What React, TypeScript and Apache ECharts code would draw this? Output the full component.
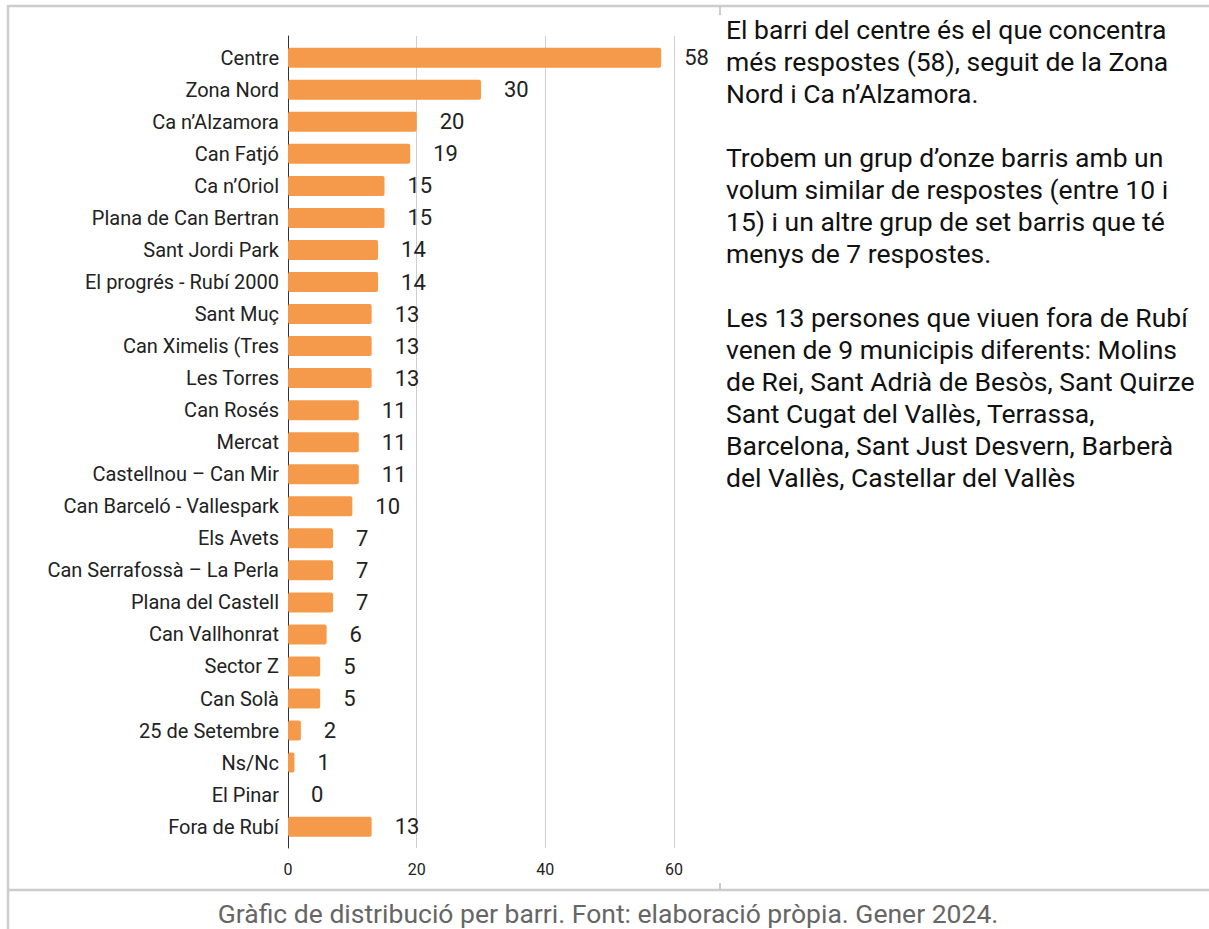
import React, { useEffect, useRef } from "react";
import * as echarts from "echarts";

const categories = [
  "Centre",
  "Zona Nord",
  "Ca n’Alzamora",
  "Can Fatjó",
  "Ca n’Oriol",
  "Plana de Can Bertran",
  "Sant Jordi Park",
  "El progrés - Rubí 2000",
  "Sant Muç",
  "Can Ximelis (Tres",
  "Les Torres",
  "Can Rosés",
  "Mercat",
  "Castellnou – Can Mir",
  "Can Barceló - Vallespark",
  "Els Avets",
  "Can Serrafossà – La Perla",
  "Plana del Castell",
  "Can Vallhonrat",
  "Sector Z",
  "Can Solà",
  "25 de Setembre",
  "Ns/Nc",
  "El Pinar",
  "Fora de Rubí",
];

const responses = [58, 30, 20, 19, 15, 15, 14, 14, 13, 13, 13, 11, 11, 11, 10, 7, 7, 7, 6, 5, 5, 2, 1, 0, 13];

const xTicks = [0, 20, 40, 60];

const sideText = [
  "El barri del centre és el que concentra",
  "més respostes (58), seguit de la Zona",
  "Nord i Ca n’Alzamora.",
  "",
  "Trobem un grup d’onze barris amb un",
  "volum similar de respostes (entre 10 i",
  "15) i un altre grup de set barris que té",
  "menys de 7 respostes.",
  "",
  "Les 13 persones que viuen fora de Rubí",
  "venen de 9 municipis diferents: Molins",
  "de Rei, Sant Adrià de Besòs, Sant Quirze",
  "Sant Cugat del Vallès, Terrassa,",
  "Barcelona, Sant Just Desvern, Barberà",
  "del Vallès, Castellar del Vallès",
];

const caption = "Gràfic de distribució per barri. Font: elaboració pròpia. Gener 2024.";

export default function App() {
  const ref = useRef<HTMLDivElement>(null);

  useEffect(() => {
    document.body.style.margin = "0";
    const chart = echarts.init(ref.current!, null, { renderer: "svg" });
    const font = "Roboto, 'Noto Sans', sans-serif";
    const border = "#cccccc";
    chart.setOption({
      animation: false,
      backgroundColor: "#ffffff",
      textStyle: { fontFamily: font },
      grid: [
        { left: 288, top: 41.7, width: 386, height: 801, containLabel: false },
        { left: 288, top: 36, width: 386, height: 812, containLabel: false },
      ],
      xAxis: [
        {
          type: "value",
          gridIndex: 0,
          min: 0,
          max: 60,
          show: false,
        },
        {
          type: "value",
          gridIndex: 1,
          min: xTicks[0],
          max: xTicks[xTicks.length - 1],
          interval: 20,
          axisLine: { show: false },
          axisTick: { show: false },
          splitLine: { show: true, lineStyle: { color: "#cfcfcf", width: 1 } },
          axisLabel: { color: "#222", fontSize: 16, margin: 13, fontFamily: font },
        },
      ],
      yAxis: [
        {
          type: "category",
          gridIndex: 0,
          data: categories,
          inverse: true,
          axisLine: { show: false },
          axisTick: { show: false },
          splitLine: { show: false },
          axisLabel: { color: "#222", fontSize: 20, margin: 9, fontFamily: font },
        },
        {
          type: "value",
          gridIndex: 1,
          min: 0,
          max: 1,
          axisLine: { show: true, onZero: false, lineStyle: { color: "#333", width: 1 } },
          axisTick: { show: false },
          axisLabel: { show: false },
          splitLine: { show: false },
        },
      ],
      series: [
        {
          type: "bar",
          xAxisIndex: 0,
          yAxisIndex: 0,
          data: responses,
          barWidth: 20,
          itemStyle: { color: "#F5994A", borderRadius: 2 },
          label: {
            show: true,
            position: "right",
            distance: 23,
            color: "#222",
            fontSize: 22,
            fontFamily: font,
          },
        },
      ],
      graphic: [
        { type: "line", shape: { x1: 7, y1: 6, x2: 1209, y2: 6 }, style: { stroke: border, lineWidth: 2.5 } },
        { type: "line", shape: { x1: 8, y1: 5, x2: 8, y2: 929 }, style: { stroke: border, lineWidth: 2.5 } },
        { type: "line", shape: { x1: 7, y1: 890, x2: 1209, y2: 890 }, style: { stroke: border, lineWidth: 2.5 } },
        { type: "line", shape: { x1: 720, y1: 5, x2: 720, y2: 15 }, style: { stroke: border, lineWidth: 2 } },
        { type: "line", shape: { x1: 720, y1: 883, x2: 720, y2: 890 }, style: { stroke: border, lineWidth: 2 } },
        {
          type: "text",
          x: 726,
          y: 13,
          style: {
            text: sideText.join("\n"),
            font: `26.5px ${font}`,
            fill: "#111",
            lineHeight: 32,
            textAlign: "left",
            textVerticalAlign: "top",
          },
        },
        {
          type: "text",
          x: 608,
          y: 913,
          style: {
            text: caption,
            font: `26.5px ${font}`,
            fill: "#666",
            textAlign: "center",
            textVerticalAlign: "middle",
          },
        },
      ],
    });
    return () => chart.dispose();
  }, []);

  return <div ref={ref} style={{ width: 1209, height: 929 }} />;
}
